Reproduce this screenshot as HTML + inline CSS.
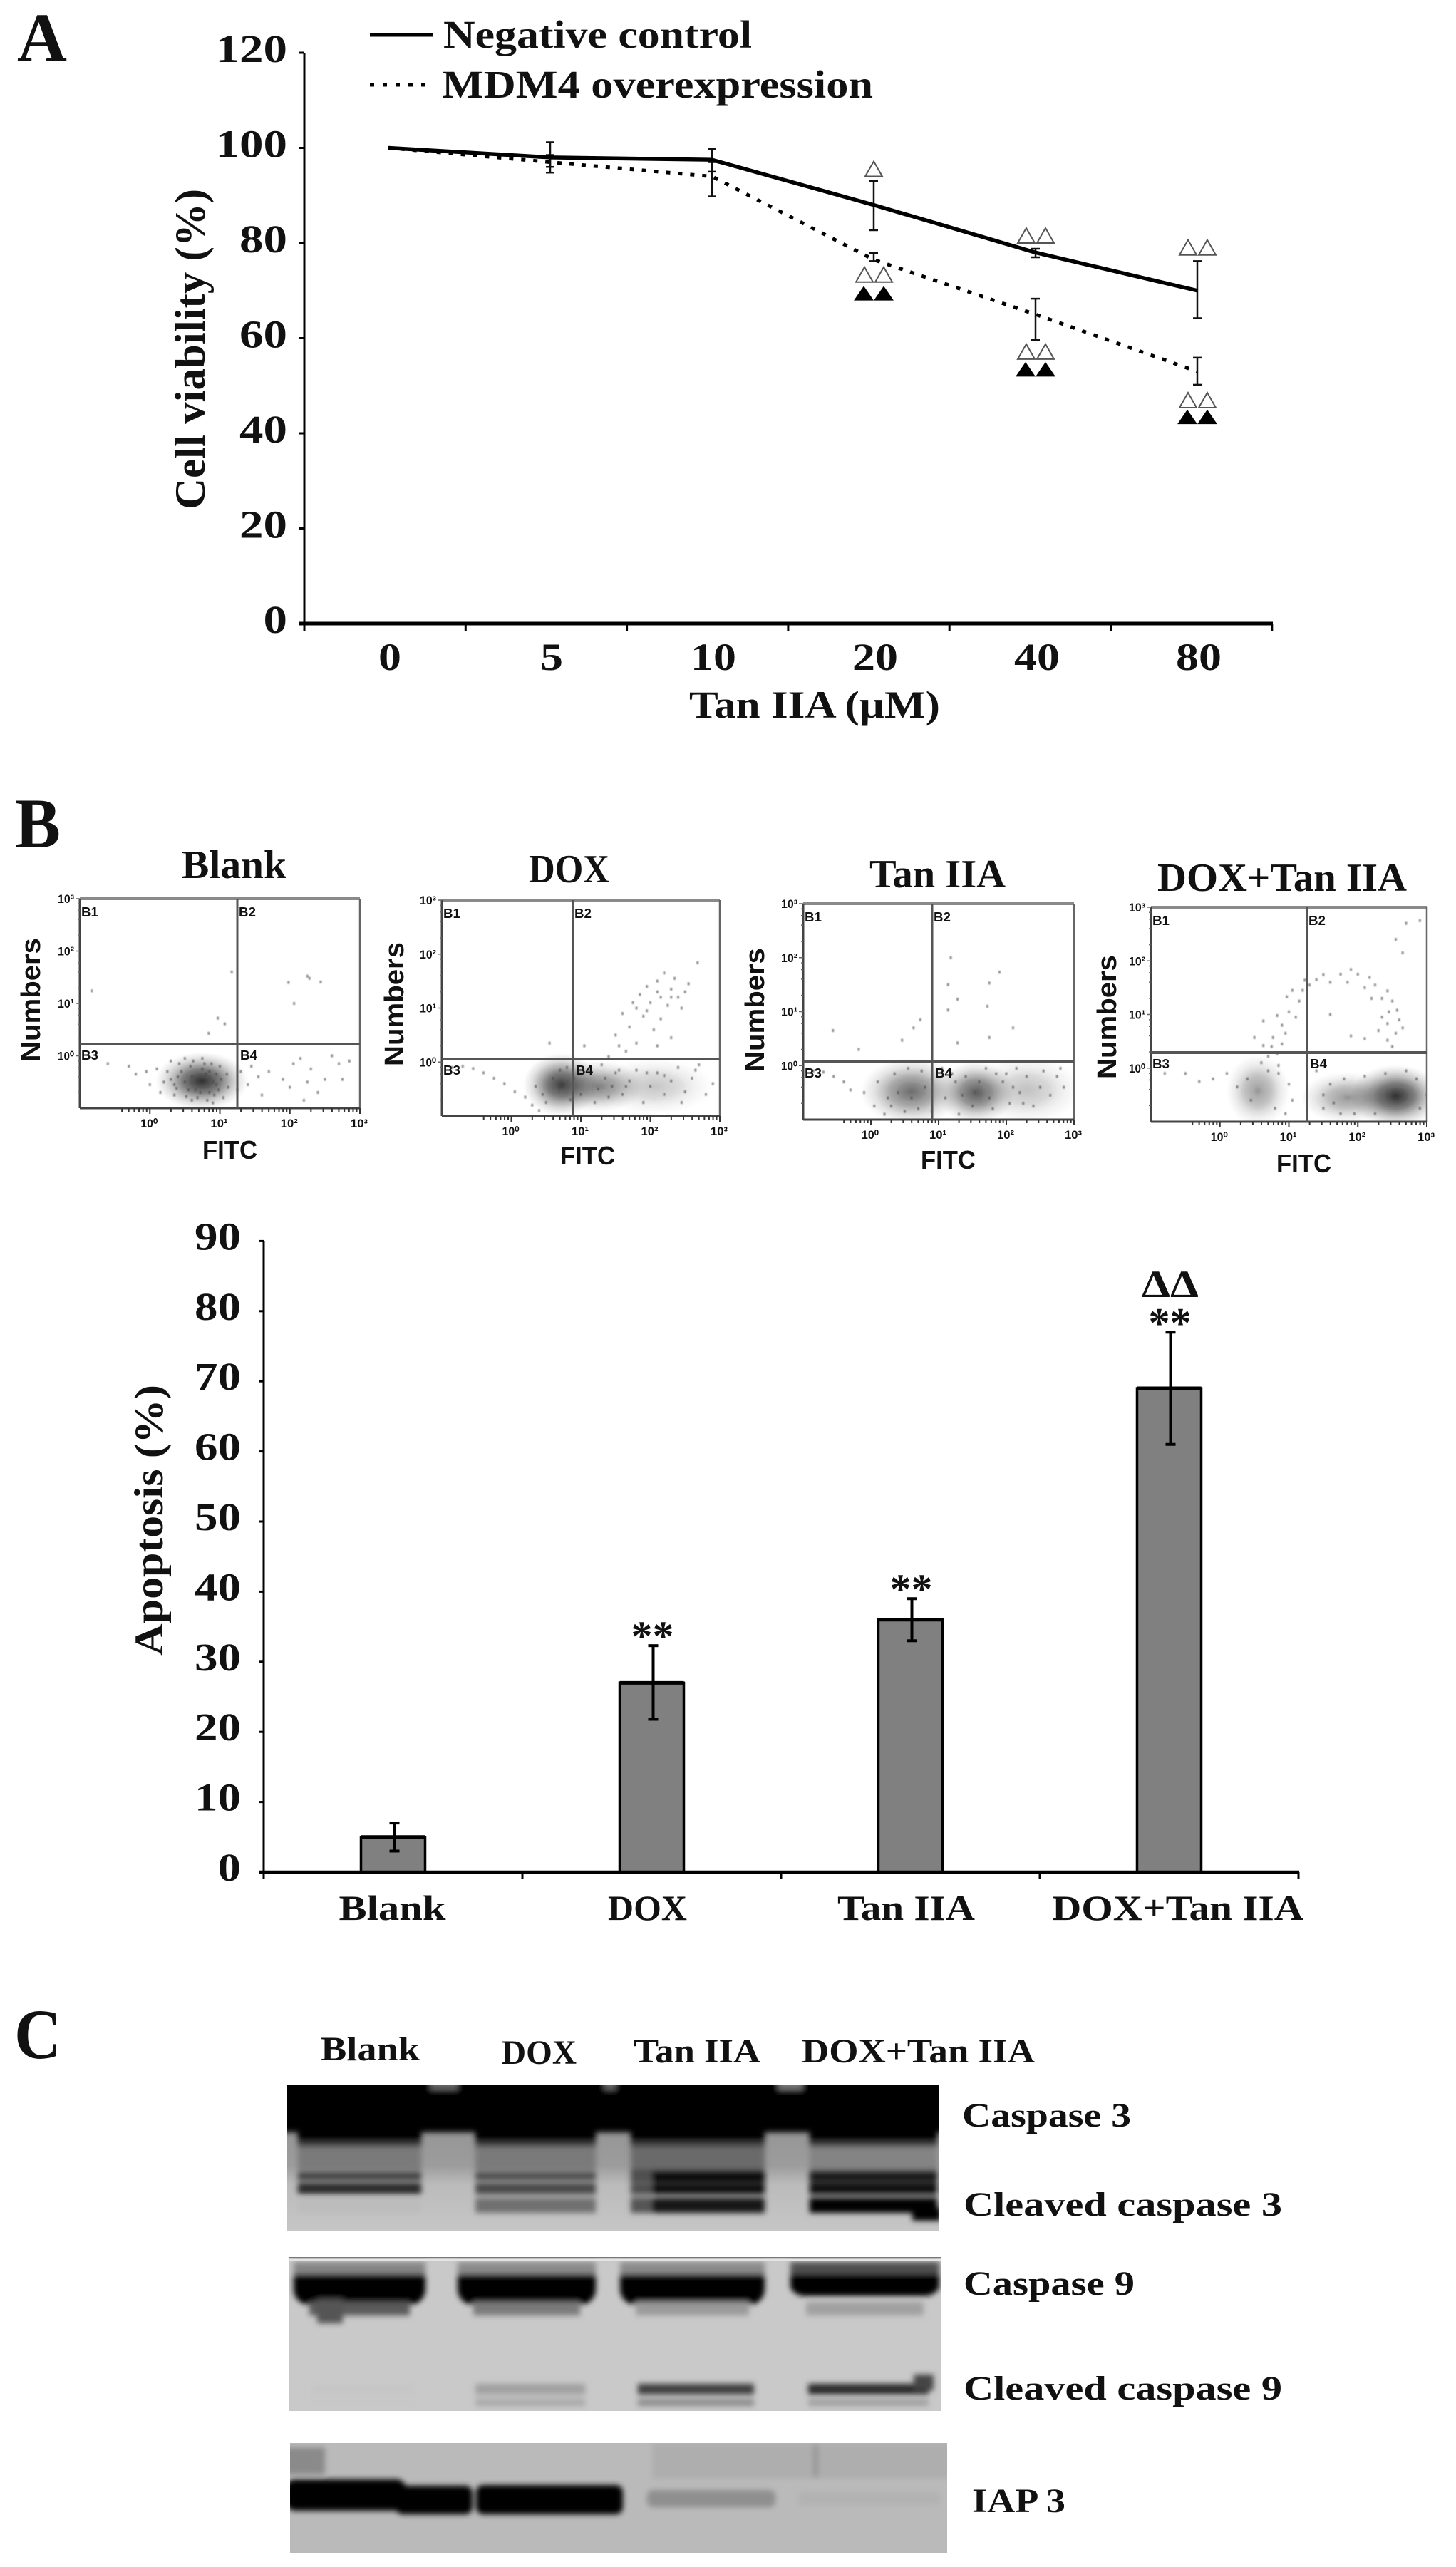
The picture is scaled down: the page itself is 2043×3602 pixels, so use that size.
<!DOCTYPE html>
<html lang="en">
<head>
<meta charset="utf-8">
<title>Cell viability, apoptosis and western blot figure</title>
<style>
html,body{margin:0;padding:0;background:#fff;}
svg{display:block;}
text{font-family:"Liberation Serif",serif;font-weight:bold;fill:#111;}
.sans{font-family:"Liberation Sans",sans-serif;}
</style>
</head>
<body>
<svg id="figure" xmlns="http://www.w3.org/2000/svg" width="2043" height="3602" viewBox="0 0 2043 3602">
<defs>
  <filter id="soft" x="-5%" y="-5%" width="110%" height="110%"><feGaussianBlur stdDeviation="0.8"/></filter>
  <filter id="blot-blur" x="-5%" y="-10%" width="110%" height="120%"><feGaussianBlur stdDeviation="4"/></filter>
  <radialGradient id="cloud-fill">
    <stop offset="0" stop-color="#1c1c1c" stop-opacity="0.92"/>
    <stop offset="0.4" stop-color="#2a2a2a" stop-opacity="0.62"/>
    <stop offset="0.75" stop-color="#555" stop-opacity="0.22"/>
    <stop offset="1" stop-color="#777" stop-opacity="0"/>
  </radialGradient>
  <linearGradient id="blot1-bg" x1="0" y1="0" x2="0" y2="1">
    <stop offset="0" stop-color="#8f8f8f"/>
    <stop offset="0.55" stop-color="#9c9c9c"/>
    <stop offset="0.68" stop-color="#bbb"/>
    <stop offset="1" stop-color="#c6c6c6"/>
  </linearGradient>
  <clipPath id="blot1-clip"><rect x="403" y="2926" width="915" height="205"/></clipPath>
  <clipPath id="blot2-clip"><rect x="405" y="3167" width="916" height="216"/></clipPath>
  <clipPath id="blot3-clip"><rect x="407" y="3428" width="922" height="155"/></clipPath>
</defs>
<rect x="0" y="0" width="2043" height="3602" fill="#fff"/>

<!-- Panel A -->
<text x="24" y="86" font-size="98" textLength="70" lengthAdjust="spacingAndGlyphs">A</text>
<g id="panel-a"></g>
<line x1="519" y1="49" x2="607" y2="49" stroke="#000" stroke-width="5"/>
<text x="622" y="67" font-size="55" textLength="433" lengthAdjust="spacingAndGlyphs">Negative control</text>
<line x1="519" y1="119" x2="607" y2="119" stroke="#000" stroke-width="5" stroke-dasharray="6 12"/>
<text x="620" y="137" font-size="55" textLength="605" lengthAdjust="spacingAndGlyphs">MDM4 overexpression</text>
<text transform="translate(287 490) rotate(-90)" text-anchor="middle" font-size="60" textLength="450" lengthAdjust="spacingAndGlyphs">Cell viability (%)</text>
<text x="967" y="1007" font-size="54" textLength="352" lengthAdjust="spacingAndGlyphs">Tan IIA (µM)</text>

<!-- Panel B -->
<text x="21" y="1189" font-size="100" textLength="64" lengthAdjust="spacingAndGlyphs">B</text>
<text x="255" y="1232" font-size="56" textLength="147" lengthAdjust="spacingAndGlyphs">Blank</text>
<text x="742" y="1238" font-size="56" textLength="113" lengthAdjust="spacingAndGlyphs">DOX</text>
<text x="1220" y="1245" font-size="56" textLength="191" lengthAdjust="spacingAndGlyphs">Tan IIA</text>
<text x="1624" y="1250" font-size="56" textLength="350" lengthAdjust="spacingAndGlyphs">DOX+Tan IIA</text>
<g id="flow-plots"></g>
<g id="panel-b"></g>
<text transform="translate(228 2133) rotate(-90)" text-anchor="middle" font-size="57" textLength="380" lengthAdjust="spacingAndGlyphs">Apoptosis (%)</text>

<!-- Panel C -->
<text x="20" y="2888" font-size="100" textLength="66" lengthAdjust="spacingAndGlyphs">C</text>
<text x="450" y="2891" font-size="48" textLength="139" lengthAdjust="spacingAndGlyphs">Blank</text>
<text x="704" y="2896" font-size="48" textLength="105" lengthAdjust="spacingAndGlyphs">DOX</text>
<text x="889" y="2894" font-size="48" textLength="178" lengthAdjust="spacingAndGlyphs">Tan IIA</text>
<text x="1125" y="2894" font-size="48" textLength="327" lengthAdjust="spacingAndGlyphs">DOX+Tan IIA</text>

<g clip-path="url(#blot1-clip)">
  <rect x="403" y="2926" width="915" height="205" fill="url(#blot1-bg)"/>
  <g id="blot1" filter="url(#blot-blur)">
    <rect x="380" y="2910" width="960" height="82" fill="#000"/>
    <rect x="604" y="2918" width="38" height="14" fill="#666"/>
    <rect x="848" y="2918" width="16" height="14" fill="#666"/>
    <rect x="1092" y="2918" width="34" height="14" fill="#777"/>
  </g>
</g>
<g clip-path="url(#blot2-clip)">
  <rect x="405" y="3167" width="916" height="216" fill="#c9c9c9"/>
  <g id="blot2" filter="url(#blot-blur)"></g>
  <rect x="405" y="3167" width="916" height="2" fill="#777"/>
  <rect x="405" y="3170" width="916" height="2" fill="#e4e4e4"/>
</g>
<g clip-path="url(#blot3-clip)">
  <rect x="407" y="3428" width="922" height="155" fill="#bababa"/>
  <g filter="url(#blot-blur)">
    <rect x="400" y="3434" width="56" height="38" fill="#8a8a8a"/>
    <rect x="915" y="3428" width="420" height="50" fill="#aeaeae"/>
    <rect x="1142" y="3430" width="5" height="46" fill="#8c8c8c"/>
    <rect x="400" y="3479" width="170" height="44" rx="14" fill="#000"/>
    <rect x="555" y="3488" width="108" height="40" rx="10" fill="#000"/>
    <rect x="668" y="3487" width="206" height="41" rx="10" fill="#000"/>
    <rect x="908" y="3494" width="180" height="24" rx="8" fill="#8f8f8f"/>
    <rect x="1120" y="3496" width="200" height="20" rx="8" fill="#b2b2b2"/>
  </g>
</g>
<text x="1350" y="2984" font-size="48" textLength="237" lengthAdjust="spacingAndGlyphs">Caspase 3</text>
<text x="1352" y="3109" font-size="48" textLength="447" lengthAdjust="spacingAndGlyphs">Cleaved caspase 3</text>
<text x="1352" y="3220" font-size="48" textLength="240" lengthAdjust="spacingAndGlyphs">Caspase 9</text>
<text x="1352" y="3367" font-size="48" textLength="447" lengthAdjust="spacingAndGlyphs">Cleaved caspase 9</text>
<text x="1364" y="3525" font-size="48" textLength="131" lengthAdjust="spacingAndGlyphs">IAP 3</text>
</svg>

<script>
// ---------- Panel A data ----------
const doseLabels = ['0', '5', '10', '20', '40', '80'];
const viabilityTicks = [0, 20, 40, 60, 80, 100, 120];
const negativeControl = [100, 98, 97.5, 88, 78, 70];
const negativeUpper = [100, 101.2, 99.8, 93, 78.8, 76.2];
const negativeLower = [100, 94.8, 95, 82.7, 77, 64.2];
const mdm4 = [100, 97, 94, 76.5, 65, 53];
const mdm4Upper = [100, 98.5, 97, 77.9, 68.3, 55.9];
const mdm4Lower = [100, 96, 89.8, 76.2, 59.6, 50.2];
const negativeHollowMarks = [null, null, null, 94, 80, 77.5];
const negativeHollowCounts = [0, 0, 0, 1, 2, 2];
const mdm4HollowMarks = [null, null, null, 71.8, 55.6, 45.4];
const mdm4SolidMarks = [null, null, null, 68, 52, 42];

// ---------- Panel B bar data ----------
const apoptosisCategories = ['Blank', 'DOX', 'Tan IIA', 'DOX+Tan IIA'];
const apoptosisValues = [5, 27, 36, 69];
const apoptosisUpper = [7, 32.3, 39, 77];
const apoptosisLower = [3, 21.8, 33, 61];
const apoptosisStars = ['', '**', '**', '**'];
const apoptosisTicks = [0, 10, 20, 30, 40, 50, 60, 70, 80, 90];

// ---------- Flow cytometry data (log10 FITC, log10 Numbers) ----------
const blankEvents = [[-.6,-.15],[-.3,-.2],[-.2,-.35],[-.05,-.3],[0,-.55],[.1,-.25],[.2,-.5],[.15,-.7],[.3,-.1],[.35,-.75],[.5,-.05],[.6,-.85],[.75,-.05],[.9,-.9],[1,-.2],[1.05,-.8],[.95,-.55],[.4,-.4],[.55,-.65],[.85,-.3],[1.3,-.3],[1.4,-.55],[1.45,-.2],[1.55,-.4],[1.6,-.75],[1.7,-.3],[1.9,-.45],[2,-.6],[2.05,-.15],[2.15,-.05],[2.25,-.5],[2.3,-.25],[2.4,-.7],[2.5,-.45],[2.6,0],[2.7,-.15],[2.75,-.45],[2.85,-.1],[2.2,-.85],[1.25,-.65],[.6,-.4],[.7,-.55],[.8,-.35],[.65,-.65],[.9,-.5],[.5,-.5],[.75,-.25],[.85,-.7],[.95,-.35],[.45,-.3],[1.98,1.4],[2.25,1.52],[2.28,1.48],[2.44,1.41],[2.06,1],[1.17,1.6],[.97,.72],[1.07,.61],[.84,.43],[-.83,1.24],[.38,-.62],[.42,-.15],[.52,-.78],[.58,-.2],[.62,-.1],[.68,-.8],[.72,-.7],[.78,-.15],[.82,-.85],[.88,-.15],[.92,-.75],[.98,-.65],[1.02,-.45],[1.1,-.35],[1.12,-.6],[.3,-.45],[.25,-.3],[.35,-.55]];
const blankCloudFitc = [.74];
const blankCloudNumbers = [-.48];
const blankCloudSpreadX = [.66];
const blankCloudSpreadY = [.55];
const blankCloudDensity = [1];

const doxEvents = [[1.4,.1],[1.5,.5],[1.6,.9],[1.55,.3],[1.7,.65],[1.75,1.1],[1.8,.35],[1.85,1.25],[1.9,.85],[1.95,1.4],[2,1.1],[2.05,.6],[2.1,1.5],[2.15,1.2],[2.2,1.65],[2.25,1.05],[2.3,1.35],[2.35,1.55],[2.4,1.2],[2.45,1],[2.5,1.3],[2.55,1.45],[1.65,.2],[2.1,.3],[2.3,.45],[2.15,.8],[.55,.35],[1.05,.3],[2.68,1.84],[1.95,.95],[2.1,1.3],[2.3,1.2],[1.8,1.0],[-.85,-.1],[-.7,-.08],[-.55,-.12],[-.4,-.2],[-.25,-.3],[-.1,-.4],[.05,-.55],[.2,-.65],[.3,-.8],[.4,-.9],[.5,-.75],[.45,-.6],[.6,-.3],[.7,-.15],[.8,-.1],[1.3,-.05],[1.5,-.2],[1.6,-.6],[1.7,-.35],[1.8,-.15],[1.9,-.75],[2,-.45],[2.1,-.2],[2.2,-.6],[2.3,-.35],[2.4,-.1],[2.5,-.55],[2.6,-.3],[2.7,-.05],[2.8,-.6],[2.9,-.4],[2.45,-.75],[2.2,-.25],[1.95,-.2],[2.65,-.15],[1.1,-.15],[1.2,-.75],[1.25,-.5],[1.35,-.3],[1.4,-.65],[1.45,-.45],[1.55,-.15],[1.65,-.45],[1,-.6],[.9,-.3],[.85,-.7],[.35,-.45]];
const doxCloudFitc = [.72, 1.25, 2.05];
const doxCloudNumbers = [-.42, -.45, -.45];
const doxCloudSpreadX = [.55, .65, .85];
const doxCloudSpreadY = [.58, .48, .52];
const doxCloudDensity = [.95, .6, .28];

const tanEvents = [[1.18,2],[1.9,1.73],[1.75,1.53],[1.14,1.5],[1.28,1.23],[1.14,1.03],[1.72,1.1],[.73,.85],[.63,.7],[2.1,.7],[1.75,.52],[1.28,.42],[.46,.47],[-.18,.3],[-.56,.65],[-.85,-.1],[-.7,-.12],[-.55,-.2],[-.4,-.3],[-.3,-.45],[-.1,-.5],[.05,-.75],[.1,-.3],[.2,-.9],[.35,-.15],[.55,-.05],[.75,-.1],[.9,-.85],[1.05,-.05],[1.3,-.9],[1.25,-.3],[1.7,-.05],[1.85,-.15],[1.95,-.3],[2.05,-.7],[2.15,-.05],[2.2,-.5],[2.3,-.2],[2.4,-.75],[2.5,-.4],[2.55,-.1],[2.65,-.55],[2.75,-.2],[2.8,-.05],[2.85,-.4],[.6,-.6],[.8,-.4],[.9,-.25],[.4,-.5],[1.1,-.6],[1.2,-.15],[1.35,-.55],[1.4,-.2],[1.5,-.75],[1.6,-.3],[1.75,-.6],[1.8,-.8],[2,-.15],[2.1,-.4],[2.25,-.7],[.25,-.6],[.3,-.75],[.5,-.85],[.7,-.8]];
const tanCloudFitc = [.6, 1.55, 2.3];
const tanCloudNumbers = [-.48, -.5, -.45];
const tanCloudSpreadX = [.75, .58, .8];
const tanCloudSpreadY = [.62, .58, .62];
const tanCloudDensity = [.7, .8, .3];

const comboEvents = [[.5,.57],[.63,.88],[.83,.98],[.97,1.33],[1.23,1.64],[1.5,1.74],[1.9,1.84],[2.17,1.69],[2.43,1.44],[2.57,1.08],[2.43,.83],[2.43,.52],[.77,.57],[.63,.42],[.7,.22],[.83,.27],[.9,.8],[1,1.05],[1.05,1.45],[1.15,1.25],[.95,.65],[.6,.1],[.85,.05],[1.3,1.55],[1.6,1.6],[1.75,1.75],[1.85,1.6],[2,1.75],[2.1,1.5],[2.25,1.55],[2.35,1.3],[2.5,1.25],[2.6,.9],[2.35,.95],[2.55,.65],[2.3,.7],[1.6,1],[1.9,.6],[2.1,.55],[2.7,2.7],[2.9,2.75],[2.55,2.4],[2.65,2.15],[-.8,-.1],[-.5,-.1],[-.3,-.25],[-.1,-.2],[.1,-.1],[.25,-.35],[.85,-.1],[1,-.3],[1.05,-.6],[.95,-.85],[.8,-.75],[1.4,-.05],[1.5,-.75],[1.6,-.3],[1.75,-.85],[1.8,-.2],[.4,-.2],[.45,-.6],[.7,-.05],[.75,.4],[.9,.45],[1.1,.95],[1.2,1.45],[1.4,1.65],[2.2,1.3],[2.45,1.05],[2.65,.75],[2.5,.4],[1.5,-.5],[1.65,-.65],[1.95,-.85],[2.1,-.15],[2.25,-.85],[2.4,-.1],[2.7,-.05],[2.85,-.2],[2.9,-.75],[3,-.5]];
const comboCloudFitc = [2.55, 1.85, .55];
const comboCloudNumbers = [-.52, -.55, -.42];
const comboCloudSpreadX = [.66, .68, .46];
const comboCloudSpreadY = [.58, .48, .66];
const comboCloudDensity = [1, .5, .48];

const flowTickLabels = ['10⁰', '10¹', '10²', '10³'];
const flowYTickLabels = ['10⁰', '10¹', '10²', '10³'];
const flowDecades = [0, 1, 2, 3];

// ---------- Helpers ----------
const NS = 'http://www.w3.org/2000/svg';
function make(tag, attrs, parent) {
  const node = document.createElementNS(NS, tag);
  for (const k in attrs) node.setAttribute(k, attrs[k]);
  parent.appendChild(node);
  return node;
}

// ---------- Panel A ----------
(function () {
  const g = document.getElementById('panel-a');
  const yScale = v => 875 - v * 6.675;
  const xPoint = i => 545 + 227 * i;
  const tickX = i => 427 + 226.3 * i;

  const yAxis = make('line', {x1: 427, y1: yScale(120), x2: 427, y2: 877, stroke: '#000', 'stroke-width': 3}, g);
  
  
  const xAxis = make('line', {x1: 420, y1: 875, x2: 1786, y2: 875, stroke: '#000', 'stroke-width': 5}, g);
  
  

  viabilityTicks.forEach(v => {
    const t = make('line', {x1: 420, y1: yScale(v), x2: 427, y2: yScale(v), stroke: '#000', 'stroke-width': 3}, g);
    
    
    const s = String(v);
    const l = make('text', {x: 403, y: yScale(v) + 13, 'text-anchor': 'end', 'font-size': 55, textLength: s.length * 33.5, lengthAdjust: 'spacingAndGlyphs'}, g);
    l.textContent = s;
    
    
  });
  for (let i = 0; i <= doseLabels.length; i++) {
    const t = make('line', {x1: tickX(i), y1: 875, x2: tickX(i), y2: 886, stroke: '#000', 'stroke-width': 3}, g);
    
    
  }
  doseLabels.forEach((d, i) => {
    const l = make('text', {x: xPoint(i) + 2, y: 940, 'text-anchor': 'middle', 'font-size': 54, textLength: d.length * 32, lengthAdjust: 'spacingAndGlyphs'}, g);
    l.textContent = d;
    
    
  });

  function errors(up, lo, name) {
    up.forEach((u, i) => {
      if (i === 0) return;
      const x = xPoint(i), cap = 6;
      const stem = make('line', {x1: x, y1: yScale(u), x2: x, y2: yScale(lo[i]), stroke: '#111', 'stroke-width': 2.5}, g);
      
      
      [u, lo[i]].forEach(val => {
        const c = make('line', {x1: x - cap, y1: yScale(val), x2: x + cap, y2: yScale(val), stroke: '#111', 'stroke-width': 2.5}, g);
        
        
      });
    });
  }
  errors(negativeUpper, negativeLower, 'negative-control');
  errors(mdm4Upper, mdm4Lower, 'mdm4');

  const mdmLine = make('polyline', {points: mdm4.map((v, i) => xPoint(i) + ',' + yScale(v)).join(' '), fill: 'none', stroke: '#000', 'stroke-width': 5, 'stroke-dasharray': '6 11'}, g);
  
  
  const negLine = make('polyline', {points: negativeControl.map((v, i) => xPoint(i) + ',' + yScale(v)).join(' '), fill: 'none', stroke: '#000', 'stroke-width': 5.5}, g);
  
  

  function triangle(cx, baseValue, solid, name) {
    const by = yScale(baseValue), w = solid ? 13 : 12, h = solid ? 19 : 21;
    const tri = make('path', {d: 'M' + (cx - w) + ' ' + by + 'L' + cx + ' ' + (by - h) + 'L' + (cx + w) + ' ' + by + 'Z', fill: solid ? '#000' : '#fff', stroke: solid ? '#000' : '#555', 'stroke-width': solid ? 1 : 2}, g);
    
    
  }
  negativeHollowMarks.forEach((v, i) => {
    if (v === null) {
      return;
    }
    if (negativeHollowCounts[i] === 1) {
      triangle(xPoint(i), v, false, 'significance-triangle-hollow');
    } else {
      triangle(xPoint(i) - 13, v, false, 'significance-triangle-hollow');
      triangle(xPoint(i) + 14, v, false, 'significance-triangle-hollow');
    }
  });
  mdm4HollowMarks.forEach((v, i) => {
    if (v === null) {
      return;
    }
    triangle(xPoint(i) - 13, v, false, 'significance-triangle-hollow');
    triangle(xPoint(i) + 14, v, false, 'significance-triangle-hollow');
  });
  mdm4SolidMarks.forEach((v, i) => {
    if (v === null) {
      return;
    }
    triangle(xPoint(i) - 14, v, true, 'significance-triangle-solid');
    triangle(xPoint(i) + 14, v, true, 'significance-triangle-solid');
  });
})();

// ---------- Flow plots ----------
function drawFlow(key, left, right, top, bottom, vline, hline, events, cFitc, cNum, cSx, cSy, cDens, numbersX, numbersY, fitcX, fitcBase) {
  const root = document.getElementById('flow-plots');
  const g = make('g', {}, root);
  
  
  const fx = l => left + (l + 1) / 4 * (right - left);
  const fy = l => bottom - (l + 1) / 4 * (bottom - top);
  const decadeX = (right - left) / 4, decadeY = (bottom - top) / 4;

  const clip = make('clipPath', {id: 'clip-' + key}, g);
  make('rect', {x: left, y: top, width: right - left, height: bottom - top}, clip);
  const dots = make('g', {'clip-path': 'url(#clip-' + key + ')'}, g);
  
  
  const inner = make('g', {filter: 'url(#soft)'}, dots);

  cFitc.forEach((c, i) => {
    const el = make('ellipse', {cx: fx(c), cy: fy(cNum[i]), rx: cSx[i] * decadeX, ry: cSy[i] * decadeY, fill: 'url(#cloud-fill)', opacity: cDens[i]}, inner);
    
    
  });
  events.forEach(p => {
    const el = make('rect', {x: fx(p[0]) - 1.5, y: fy(p[1]) - 2, width: 3, height: 4, fill: '#444', opacity: .6}, inner);
    
    
  });

  const frameTop = make('line', {x1: left, y1: top, x2: right, y2: top, stroke: '#8a8a8a', 'stroke-width': 4}, g);
  
  
  const frameRight = make('line', {x1: right, y1: top, x2: right, y2: bottom, stroke: '#666', 'stroke-width': 2.5}, g);
  
  
  const frameLeft = make('line', {x1: left, y1: top, x2: left, y2: bottom, stroke: '#444', 'stroke-width': 3}, g);
  
  
  const frameBottom = make('line', {x1: left, y1: bottom, x2: right, y2: bottom, stroke: '#444', 'stroke-width': 3}, g);
  
  
  const gateV = make('line', {x1: vline, y1: top, x2: vline, y2: bottom, stroke: '#555', 'stroke-width': 3}, g);
  
  
  const gateH = make('line', {x1: left, y1: hline, x2: right, y2: hline, stroke: '#555', 'stroke-width': 4}, g);
  
  

  [-1, 0, 1, 2].forEach(d => {
    [2, 3, 4, 5, 6, 7, 8, 9, 10].forEach(m => {
      const lx = d + Math.log10(m);
      if (d === -1 && m < 4) return;
      const t = make('line', {x1: fx(lx), y1: bottom, x2: fx(lx), y2: bottom + (m === 10 ? 8 : 5), stroke: '#333', 'stroke-width': 2}, g);
      
      
    });
    [2, 4, 6, 8, 10].forEach(m => {
      const ly = d + Math.log10(m);
      const t = make('line', {x1: left - (m === 10 ? 6 : 3), y1: fy(ly), x2: left, y2: fy(ly), stroke: '#666', 'stroke-width': 1.5}, g);
      
      
    });
  });
  flowDecades.forEach((d, i) => {
    const xl = make('text', {x: fx(d) - 1, y: bottom + 27, 'text-anchor': 'middle', 'font-size': 17, fill: '#444', class: 'sans', textLength: 24, lengthAdjust: 'spacingAndGlyphs', 'font-weight': 'normal'}, g);
    xl.textContent = flowTickLabels[i];
    
    
    const yl = make('text', {x: left - 8, y: fy(d) + 6, 'text-anchor': 'end', 'font-size': 17, fill: '#444', class: 'sans', textLength: 23, lengthAdjust: 'spacingAndGlyphs', 'font-weight': 'normal'}, g);
    yl.textContent = flowYTickLabels[i];
    
    
  });

  const qLabels = [['B1', left + 2, top + 25], ['B2', vline + 2, top + 25], ['B3', left + 2, hline + 22], ['B4', vline + 4, hline + 22]];
  qLabels.forEach(q => {
    const el = make('text', {x: q[1], y: q[2], 'font-size': 18, class: 'sans', fill: '#333', textLength: 24, lengthAdjust: 'spacingAndGlyphs'}, g);
    el.textContent = q[0];
    
    
  });
  const nLabel = make('text', {transform: 'translate(' + numbersX + ' ' + numbersY + ') rotate(-90)', 'text-anchor': 'middle', 'font-size': 38, class: 'sans', textLength: 174, lengthAdjust: 'spacingAndGlyphs'}, g);
  nLabel.textContent = 'Numbers';
  
  
  const fLabel = make('text', {x: fitcX, y: fitcBase, 'font-size': 36, class: 'sans', textLength: 77, lengthAdjust: 'spacingAndGlyphs'}, g);
  fLabel.textContent = 'FITC';
  
  
}
drawFlow('blank', 112, 505, 1261, 1555, 333, 1465, blankEvents, blankCloudFitc, blankCloudNumbers, blankCloudSpreadX, blankCloudSpreadY, blankCloudDensity, 56, 1403, 284, 1626);
drawFlow('dox', 620, 1010, 1263, 1566, 804, 1486, doxEvents, doxCloudFitc, doxCloudNumbers, doxCloudSpreadX, doxCloudSpreadY, doxCloudDensity, 566, 1409, 786, 1634);
drawFlow('tan-iia', 1127, 1507, 1268, 1571, 1308, 1490, tanEvents, tanCloudFitc, tanCloudNumbers, tanCloudSpreadX, tanCloudSpreadY, tanCloudDensity, 1072, 1417, 1292, 1640);
drawFlow('dox-tan-iia', 1615, 2002, 1273, 1574, 1834, 1477, comboEvents, comboCloudFitc, comboCloudNumbers, comboCloudSpreadX, comboCloudSpreadY, comboCloudDensity, 1566, 1427, 1791, 1645);

// ---------- Panel B bars ----------
(function () {
  const g = document.getElementById('panel-b');
  const yScale = v => 2627 - v * 9.84;
  const band = 363;
  const xCenter = i => 370 + band * (i + 0.5);
  const barWidth = 90;
  const labelWidths = [150, 111, 193, 353];
  const labelShift = [-1, -6, -6, 12];

  apoptosisValues.forEach((v, i) => {
    const r = make('rect', {x: xCenter(i) - barWidth / 2, y: yScale(v), width: barWidth, height: 2627 - yScale(v), fill: '#808080', stroke: '#000', 'stroke-width': 3.5}, g);
    
    
    const top = make('line', {x1: xCenter(i) - barWidth / 2, y1: yScale(v), x2: xCenter(i) + barWidth / 2, y2: yScale(v), stroke: '#000', 'stroke-width': 5}, g);
    
    
    const x = xCenter(i) + 2;
    const stem = make('line', {x1: x, y1: yScale(apoptosisUpper[i]), x2: x, y2: yScale(apoptosisLower[i]), stroke: '#000', 'stroke-width': 4}, g);
    
    
    [apoptosisUpper[i], apoptosisLower[i]].forEach(val => {
      const c = make('line', {x1: x - 7, y1: yScale(val), x2: x + 7, y2: yScale(val), stroke: '#000', 'stroke-width': 4}, g);
      
      
    });
    if (apoptosisStars[i]) {
      const st = make('text', {x: x - 1, y: yScale(apoptosisUpper[i]) + 7, 'text-anchor': 'middle', 'font-size': 60, textLength: 60, lengthAdjust: 'spacingAndGlyphs'}, g);
      st.textContent = apoptosisStars[i];
      
      
    }
    const lab = make('text', {x: xCenter(i) + labelShift[i], y: 2694, 'text-anchor': 'middle', 'font-size': 50, textLength: labelWidths[i], lengthAdjust: 'spacingAndGlyphs'}, g);
    lab.textContent = apoptosisCategories[i];
    
    
  });

  const delta = make('text', {x: 1642, y: 1820, 'text-anchor': 'middle', 'font-size': 54, textLength: 80, lengthAdjust: 'spacingAndGlyphs', 'font-weight': 'normal'}, g);
  delta.textContent = 'ΔΔ';
  
  

  const yAxis = make('line', {x1: 370, y1: yScale(90), x2: 370, y2: 2635, stroke: '#000', 'stroke-width': 3}, g);
  
  
  const xAxis = make('line', {x1: 364, y1: 2627, x2: 1823, y2: 2627, stroke: '#000', 'stroke-width': 4.5}, g);
  
  
  for (let i = 0; i <= apoptosisCategories.length; i++) {
    const t = make('line', {x1: 370 + band * i, y1: 2627, x2: 370 + band * i, y2: 2637, stroke: '#000', 'stroke-width': 3}, g);
    
    
  }
  apoptosisTicks.forEach(v => {
    const t = make('line', {x1: 363, y1: yScale(v), x2: 370, y2: yScale(v), stroke: '#000', 'stroke-width': 3}, g);
    
    
    const s = String(v);
    const l = make('text', {x: 338, y: yScale(v) + 12, 'text-anchor': 'end', 'font-size': 55, textLength: s.length * 32.5, lengthAdjust: 'spacingAndGlyphs'}, g);
    l.textContent = s;
    
    
  });
})();

// ---------- Western blots ----------
const blot1Lanes = [[418, 591], [667, 836], [885, 1073], [1136, 1315]];
const blot2Lanes = [[412, 597], [642, 836], [870, 1073], [1109, 1318]];
const blot1Smear = ['#7a7a7a', '#7a7a7a', '#6a6a6a', '#848484'];
const blot1BandA = ['#3c3c3c', '#484848', '#0c0c0c', '#1c1c1c'];
const blot1BandB = ['#2c2c2c', '#484848', '#080808', '#101010'];
const blot1BandC = ['#bcbcbc', '#707070', '#141414', '#000'];
const blot2Top = ['#858585', '#8a8a8a', '#8a8a8a', '#505050'];
const blot2Under = ['#5a5a5a', '#7a7a7a', '#9a9a9a', '#a0a0a0'];
const blot2Cleaved = ['#c6c6c6', '#a0a0a0', '#404040', '#2a2a2a'];
const blot2CleavedLow = ['#c8c8c8', '#a8a8a8', '#8c8c8c', '#a0a0a0'];

(function () {
  const b1 = document.getElementById('blot1');
  const b2 = document.getElementById('blot2');
  function band(parent, lane, y0, y1, shade, name, rx) {
    const r = make('rect', {x: lane[0], y: y0, width: lane[1] - lane[0], height: y1 - y0, fill: shade, rx: rx || 0}, parent);
    
    
  }
  blot1Lanes.forEach((lane, i) => {
    band(b1, lane, 2985, 3004, '#000', 'caspase-3-band-lower-edge');
    band(b1, lane, 3004, 3012, '#3a3a3a', 'caspase-3-band-shadow');
    band(b1, lane, 3012, 3046, blot1Smear[i], 'caspase-3-smear');
    band(b1, lane, i >= 2 ? 3045 : 3048, i >= 2 ? 3063 : 3059, blot1BandA[i], 'cleaved-caspase-3-band-a');
    band(b1, lane, i >= 2 ? 3064 : 3063, 3079, blot1BandB[i], 'cleaved-caspase-3-band-b');
    band(b1, lane, 3084, 3105, blot1BandC[i], 'cleaved-caspase-3-band-c');
  });
  const tail = make('rect', {x: 1280, y: 3098, width: 40, height: 18, fill: '#000'}, b1);
  
  
  const laneGlow = make('rect', {x: 885, y: 3046, width: 30, height: 60, fill: '#888', opacity: .55}, b1);
  
  

  blot2Lanes.forEach((lane, i) => {
    band(b2, lane, 3174, 3191, blot2Top[i], 'caspase-9-upper-band');
    band(b2, lane, 3191, i === 3 ? 3222 : 3234, '#000', 'caspase-9-main-band', 22);
    band(b2, lane, 3191, 3212, '#000', 'caspase-9-main-band-top');
    band(b2, [lane[0] + 22, lane[1] - 22], 3230, 3249, blot2Under[i], 'caspase-9-under-band');
    band(b2, [lane[0] + 25, lane[1] - 15], 3345, 3360, blot2Cleaved[i], 'cleaved-caspase-9-band');
    band(b2, [lane[0] + 25, lane[1] - 15], 3366, 3376, blot2CleavedLow[i], 'cleaved-caspase-9-lower-band');
  });
  const knob = make('rect', {x: 445, y: 3226, width: 36, height: 34, fill: '#555'}, b2);
  
  
  const rise = make('rect', {x: 1282, y: 3332, width: 28, height: 22, fill: '#444'}, b2);
  
  
})();
</script>
</body>
</html>
